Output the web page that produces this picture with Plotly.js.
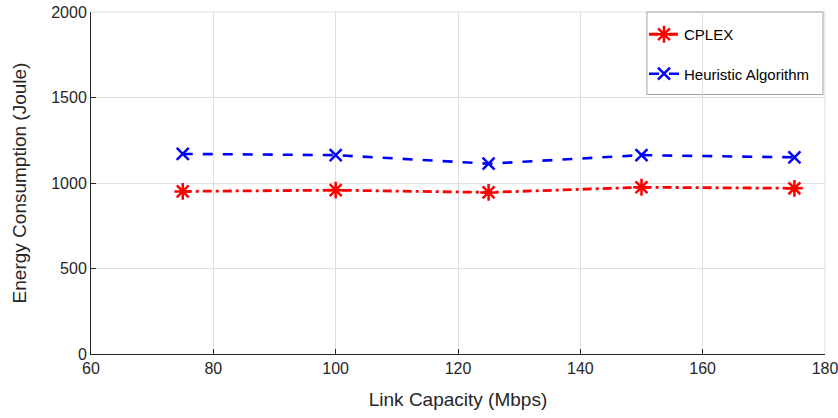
<!DOCTYPE html>
<html>
<head>
<meta charset="utf-8">
<script src="https://cdn.plot.ly/plotly-3.0.1.min.js"></script>
<style>html,body{margin:0;padding:0;background:#fff;}#chart{width:838px;height:418px;}</style>
</head>
<body>
<div id="chart"></div>
<script>
var linkCapacity = [75, 100, 125, 150, 175];
var cplexEnergy = [951, 958, 945, 975, 969];
var heuristicEnergy = [1170, 1163, 1113, 1163, 1150];
var xTicks = [60, 80, 100, 120, 140, 160, 180];
var yTicks = [0, 500, 1000, 1500, 2000];

var fontFam = 'Liberation Sans, Arial, Helvetica, sans-serif';
var traces = [
  {
    x: linkCapacity, y: cplexEnergy, name: 'CPLEX', type: 'scatter', mode: 'lines+markers',
    legendgroup: 'a',
    line: {color: '#ff0000', width: 2.8, dash: '9px,4px,3px,4px'},
    marker: {symbol: 'asterisk-open', size: 14, color: '#ff0000', line: {color: '#ff0000', width: 2.5}}
  },
  {
    x: linkCapacity, y: heuristicEnergy, name: 'Heuristic Algorithm', type: 'scatter', mode: 'lines+markers',
    legendgroup: 'b',
    line: {color: '#0000ff', width: 2.6, dash: '10px,10px'},
    marker: {symbol: 'x-thin-open', size: 12, color: '#0000ff', line: {color: '#0000ff', width: 2.5}}
  }
];
var axisCommon = {
  showgrid: true, gridcolor: '#dfdfdf', gridwidth: 1,
  zeroline: false, showline: true, linecolor: '#262626', linewidth: 1,
  ticks: 'inside', ticklen: 5, tickcolor: '#262626',
  ticklabeloverflow: 'allow',
  tickfont: {family: fontFam, size: 16, color: '#262626'}
};
var layout = {
  width: 838, height: 418,
  margin: {l: 91, r: 13, t: 12, b: 64},
  paper_bgcolor: '#ffffff', plot_bgcolor: '#ffffff',
  showlegend: true,
  xaxis: Object.assign({}, axisCommon, {
    range: [60, 180], tickvals: xTicks, ticktext: xTicks.map(String),
    title: {text: 'Link Capacity (Mbps)', font: {family: fontFam, size: 19, color: '#262626'}, standoff: 16}
  }),
  yaxis: Object.assign({}, axisCommon, {
    range: [0, 2000], tickvals: yTicks, ticktext: yTicks.map(String),
    title: {text: 'Energy Consumption (Joule)', font: {family: fontFam, size: 19, color: '#262626'}, standoff: 19}
  }),
  legend: {
    x: 0.7534, y: 0.9825, xanchor: 'left', yanchor: 'top',
    bgcolor: 'rgba(0,0,0,0)', borderwidth: 0,
    font: {family: fontFam, size: 15, color: '#000000'},
    traceorder: 'grouped', tracegroupgap: 17
  },
  shapes: [
    {type: 'line', xref: 'paper', yref: 'paper', x0: 0, x1: 1, y0: 1, y1: 1, line: {color: '#dfdfdf', width: 1}, layer: 'below'},
    {type: 'line', xref: 'paper', yref: 'paper', x0: 1, x1: 1, y0: 0, y1: 1, line: {color: '#dfdfdf', width: 1}, layer: 'below'},
    {type: 'rect', xref: 'paper', yref: 'paper', x0: 0.7574, x1: 0.9973, y0: 0.7587, y1: 1, fillcolor: '#ffffff', line: {color: '#a0a0a0', width: 1}, layer: 'between'}
  ]
};
Plotly.newPlot('chart', traces, layout, {displayModeBar: false, staticPlot: true});
</script>
</body>
</html>
